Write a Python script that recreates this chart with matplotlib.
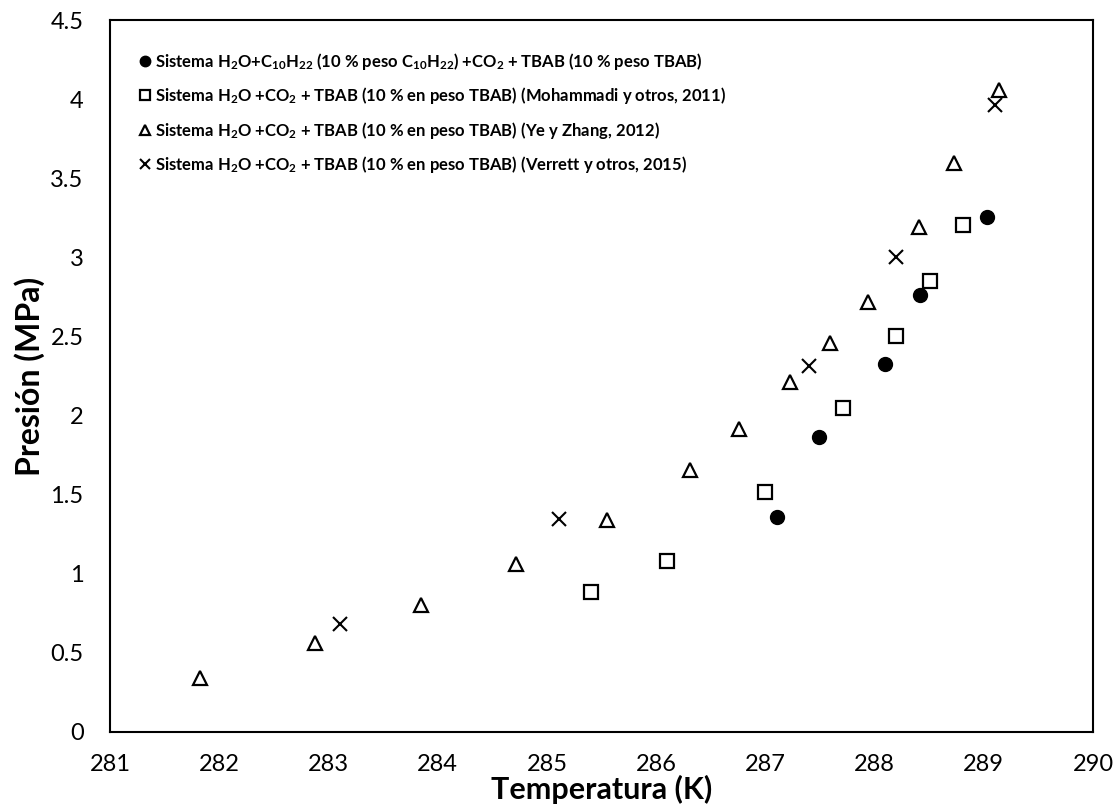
import matplotlib
matplotlib.use('Agg')
import matplotlib.pyplot as plt
from matplotlib import rcParams
import numpy as np

# Data
temp_c10 = [287.11, 287.49, 288.10, 288.42, 289.03]
pres_c10 = [1.357, 1.867, 2.326, 2.760, 3.253]

temp_moh = [285.40, 286.10, 287.00, 287.71, 288.20, 288.51, 288.81]
pres_moh = [0.887, 1.079, 1.519, 2.050, 2.503, 2.853, 3.205]

temp_ye = [281.82, 282.88, 283.85, 284.72, 285.55, 286.31, 286.76,
           287.23, 287.59, 287.94, 288.41, 288.73, 289.14]
pres_ye = [0.344, 0.565, 0.800, 1.060, 1.340, 1.656, 1.913,
           2.214, 2.460, 2.718, 3.190, 3.595, 4.060]

temp_ver = [283.11, 285.11, 287.40, 288.20, 289.10]
pres_ver = [0.680, 1.346, 2.313, 3.004, 3.963]

labels = [
    r'Sistema H$_2$O+C$_{10}$H$_{22}$ (10 % peso C$_{10}$H$_{22}$) +CO$_2$ + TBAB (10 % peso TBAB)',
    r'Sistema H$_2$O +CO$_2$ + TBAB (10 % en peso TBAB) (Mohammadi y otros, 2011)',
    r'Sistema H$_2$O +CO$_2$ + TBAB (10 % en peso TBAB) (Ye y Zhang, 2012)',
    r'Sistema H$_2$O +CO$_2$ + TBAB (10 % en peso TBAB) (Verrett y otros, 2015)',
]

rcParams['font.family'] = 'Lato'
rcParams['mathtext.fontset'] = 'custom'
rcParams['mathtext.rm'] = 'Lato:bold'
rcParams['mathtext.it'] = 'Lato:bold'
rcParams['mathtext.bf'] = 'Lato:bold'
rcParams['mathtext.default'] = 'regular'

fig = plt.figure(figsize=(11.2, 8.11), dpi=100)
ax = fig.add_axes([110/1120, 1 - 732/811, 983/1120, 712/811])

ax.plot(temp_c10, pres_c10, 'o', color='black', markersize=10, label=labels[0])
ax.plot(temp_moh, pres_moh, 's', mfc='white', mec='black', mew=1.6,
        markersize=10, label=labels[1])
ax.plot(temp_ye, pres_ye, '^', mfc='white', mec='black', mew=1.6,
        markersize=10, label=labels[2])
ax.plot(temp_ver, pres_ver, 'x', color='black', mew=1.5,
        markersize=10, label=labels[3])

ax.set_xlim(281, 290)
ax.set_ylim(0, 4.5)
ax.set_xticks(np.arange(281, 291, 1))
ax.set_yticks(np.arange(0, 4.51, 0.5))
ax.set_yticklabels(['0', '0.5', '1', '1.5', '2', '2.5', '3', '3.5', '4', '4.5'])
ax.tick_params(length=0, labelsize=17)
ax.tick_params(axis='x', pad=16)
ax.tick_params(axis='y', pad=19)
for sp in ax.spines.values():
    sp.set_linewidth(1.5)

ax.set_xlabel('Temperatura (K)', fontsize=22, fontweight='bold', labelpad=0)
ax.set_ylabel('Presión (MPa)', fontsize=23, fontweight='bold', labelpad=4)

leg = ax.legend(loc='upper left', bbox_to_anchor=(0.020, 0.966), borderaxespad=0,
                frameon=False, prop={'weight': 'bold', 'size': 12},
                handletextpad=0.15, handlelength=1.0, labelspacing=0.8,
                markerscale=0.75)

fig.savefig('out.png', dpi=100)
